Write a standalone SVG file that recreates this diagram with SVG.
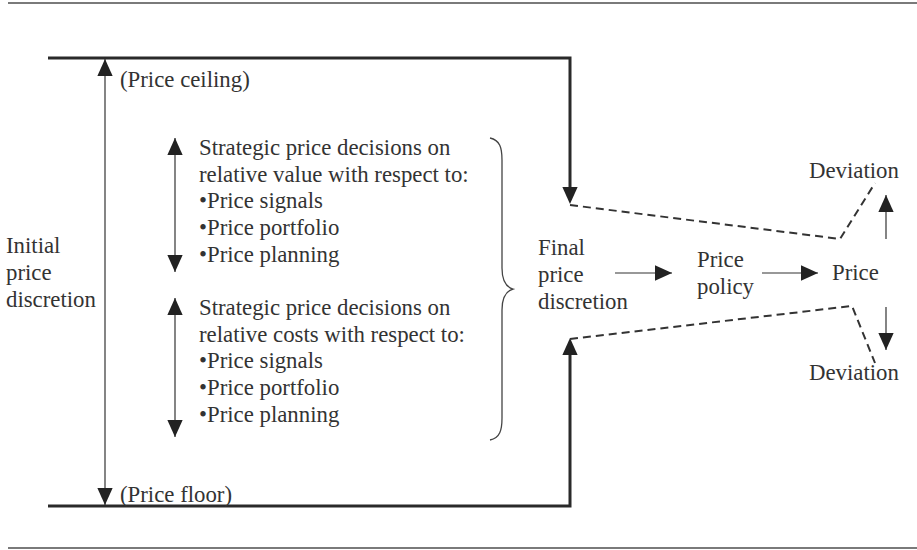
<svg xmlns="http://www.w3.org/2000/svg" width="917" height="550" viewBox="0 0 917 550">
  <style>
    text { font-family: "Liberation Serif", "Times New Roman", serif; font-size: 22.8px; fill: #333; }
    .rule { stroke: #7a7a7a; stroke-width: 2; fill: none; }
    .bound { stroke: #2a2a2a; stroke-width: 3; fill: none; }
    .thin { stroke: #333; stroke-width: 1.2; fill: none; }
    .dash { stroke: #333; stroke-width: 2; fill: none; stroke-dasharray: 8 5; }
    .brace { stroke: #444; stroke-width: 1.3; fill: none; }
  </style>
  <defs>
    <marker id="head" viewBox="0 0 10 10" refX="10" refY="5" markerWidth="17" markerHeight="17" markerUnits="userSpaceOnUse" orient="auto-start-reverse">
      <path d="M0,0.5 L10,5 L0,9.5 Z" fill="#222"/>
    </marker>
  </defs>
  <rect width="917" height="550" fill="#fff"/>

  <!-- page rules -->
  <line class="rule" x1="8" y1="3" x2="917" y2="3"/>
  <line class="rule" x1="8" y1="548" x2="917" y2="548"/>

  <g id="connectors">
    <!-- ceiling and floor boundaries -->
    <path class="bound" d="M48,58 H570 V190"/>
    <path class="bound" d="M48,506 H570 V352"/>
    <path d="M570,188 V204" stroke="none" marker-end="url(#head)"/>
    <path d="M570,354 V338" stroke="none" marker-end="url(#head)"/>
    <!-- initial discretion span -->
    <path class="thin" d="M105,505 V59" marker-start="url(#head)" marker-end="url(#head)"/>
    <!-- decision spans -->
    <path class="thin" d="M175,272 V138" marker-start="url(#head)" marker-end="url(#head)"/>
    <path class="thin" d="M175,437 V298" marker-start="url(#head)" marker-end="url(#head)"/>
    <!-- funnel -->
    <path class="dash" d="M570,205 L840,239 L875,183"/>
    <path class="dash" d="M570,339 L852,306 L875,363"/>
    <!-- flow -->
    <path class="thin" d="M615,273 H672" marker-end="url(#head)"/>
    <path class="thin" d="M762,273 H818" marker-end="url(#head)"/>
    <!-- deviations -->
    <path class="thin" d="M886,239 V195" marker-end="url(#head)"/>
    <path class="thin" d="M886,307 V350" marker-end="url(#head)"/>
    <!-- brace -->
    <path class="brace" d="M490,138 C500,140 502,148 502,160 V268 C502,280 506,287 513,289 C506,291 502,298 502,310 V418 C502,430 500,438 490,440"/>
  </g>

  <g id="ceiling"><text x="120" y="87">(Price ceiling)</text></g>
  <g id="floor"><text x="120" y="502">(Price floor)</text></g>

  <g id="initial">
    <text x="6" y="253">Initial</text>
    <text x="6" y="280">price</text>
    <text x="6" y="307">discretion</text>
  </g>

  <g id="value-decisions">
    <text x="199" y="155">Strategic price decisions on</text>
    <text x="199" y="182">relative value with respect to:</text>
    <text x="199" y="208">•Price signals</text>
    <text x="199" y="235">•Price portfolio</text>
    <text x="199" y="262">•Price planning</text>
  </g>

  <g id="cost-decisions">
    <text x="199" y="315">Strategic price decisions on</text>
    <text x="199" y="342">relative costs with respect to:</text>
    <text x="199" y="368">•Price signals</text>
    <text x="199" y="395">•Price portfolio</text>
    <text x="199" y="422">•Price planning</text>
  </g>

  <g id="final">
    <text x="538" y="255">Final</text>
    <text x="538" y="282">price</text>
    <text x="538" y="309">discretion</text>
  </g>

  <g id="policy">
    <text x="697" y="267">Price</text>
    <text x="697" y="294">policy</text>
  </g>

  <g id="price"><text x="832" y="280">Price</text></g>
  <g id="deviation-up"><text x="809" y="178">Deviation</text></g>
  <g id="deviation-down"><text x="809" y="380">Deviation</text></g>
</svg>
